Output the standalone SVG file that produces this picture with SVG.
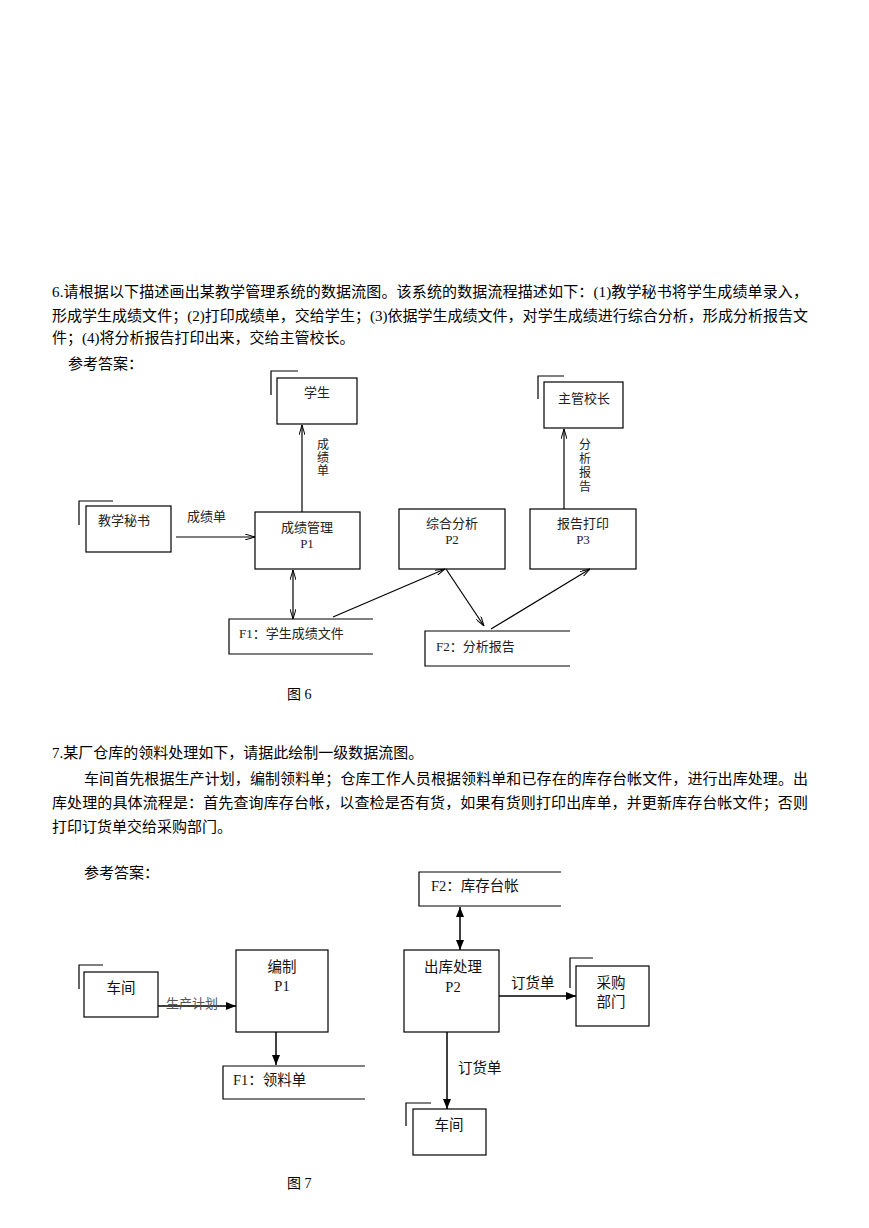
<svg xmlns="http://www.w3.org/2000/svg" width="869" height="1228" viewBox="0 0 869 1228">
<style>
text{font-family:"Liberation Serif","Noto Sans CJK SC",serif;fill:#000}
.body{font-size:15px}
.d6{font-size:13px;fill:#222}
.v6{font-size:12px;fill:#222}
.d7{font-size:14.5px;fill:#111}
.box{fill:#fff;stroke:#000;stroke-width:1.2}
.mark{fill:none;stroke:#000;stroke-width:1.2}
.store{fill:none;stroke:#000;stroke-width:1.2}
.c6{fill:none;stroke:#000;stroke-width:1.2;marker-end:url(#open)}
.c7{fill:none;stroke:#000;stroke-width:1.5;marker-end:url(#fill)}
</style>
<defs>
<marker id="open" viewBox="0 0 10 6" refX="10" refY="3" markerWidth="10" markerHeight="6" markerUnits="userSpaceOnUse" orient="auto-start-reverse">
<path d="M0,0 L10,3 L0,6" fill="none" stroke="#000" stroke-width="1"/>
</marker>
<marker id="fill" viewBox="0 0 10 8" refX="10" refY="4" markerWidth="10" markerHeight="8" markerUnits="userSpaceOnUse" orient="auto-start-reverse">
<path d="M0,0 L10,4 L0,8 z" fill="#000"/>
</marker>
</defs>
<rect width="869" height="1228" fill="#fff"/>

<g id="text6">
<text class="body" x="52" y="297" textLength="756" lengthAdjust="spacing">6.请根据以下描述画出某教学管理系统的数据流图。该系统的数据流程描述如下：(1)教学秘书将学生成绩单录入，</text>
<text class="body" x="52" y="321" textLength="756" lengthAdjust="spacing">形成学生成绩文件；(2)打印成绩单，交给学生；(3)依据学生成绩文件，对学生成绩进行综合分析，形成分析报告文</text>
<text class="body" x="52" y="343">件；(4)将分析报告打印出来，交给主管校长。</text>
<text class="body" x="68" y="369">参考答案：</text>
</g>

<g id="n6-student">
<path class="mark" d="M271,395 V371 H298"/>
<rect class="box" x="277" y="378" width="80" height="46"/>
<text class="d6" x="317" y="397" text-anchor="middle">学生</text>
</g>
<g id="n6-secretary">
<path class="mark" d="M79,525 V501 H113"/>
<rect class="box" x="86" y="506" width="85" height="46"/>
<text class="d6" x="98" y="525">教学秘书</text>
</g>
<g id="n6-principal">
<path class="mark" d="M538,399 V376 H564"/>
<rect class="box" x="544" y="382" width="79" height="46"/>
<text class="d6" x="584" y="403" text-anchor="middle">主管校长</text>
</g>
<g id="n6-p1">
<rect class="box" x="255" y="512" width="105" height="57"/>
<text class="d6" x="307" y="532" text-anchor="middle">成绩管理</text>
<text class="d6" x="307" y="548" text-anchor="middle">P1</text>
</g>
<g id="n6-p2">
<rect class="box" x="399" y="509" width="106" height="60"/>
<text class="d6" x="452" y="528" text-anchor="middle">综合分析</text>
<text class="d6" x="452" y="544" text-anchor="middle">P2</text>
</g>
<g id="n6-p3">
<rect class="box" x="530" y="509" width="106" height="60"/>
<text class="d6" x="583" y="528" text-anchor="middle">报告打印</text>
<text class="d6" x="583" y="544" text-anchor="middle">P3</text>
</g>
<g id="n6-f1">
<path class="store" d="M373,619 H229 V654 H373"/>
<text class="d6" x="239" y="638">F1：学生成绩文件</text>
</g>
<g id="n6-f2">
<path class="store" d="M570,631 H425 V666 H570"/>
<text class="d6" x="436" y="651">F2：分析报告</text>
</g>

<g id="connectors6">
<line class="c6" x1="302" y1="512" x2="302" y2="425"/>
<line class="c6" x1="176" y1="537" x2="255" y2="537"/>
<line class="c6" x1="564" y1="509" x2="564" y2="429"/>
<line class="c6" style="marker-start:url(#open)" x1="293" y1="570" x2="293" y2="619"/>
<line class="c6" x1="333" y1="617" x2="445" y2="569"/>
<line class="c6" x1="446" y1="569" x2="484" y2="626"/>
<line class="c6" x1="491" y1="629" x2="590" y2="569"/>
<text class="d6" x="187" y="521">成绩单</text>
<text class="v6" x="323" y="449" text-anchor="middle">成</text>
<text class="v6" x="323" y="462" text-anchor="middle">绩</text>
<text class="v6" x="323" y="475" text-anchor="middle">单</text>
<text class="v6" x="585" y="449" text-anchor="middle">分</text>
<text class="v6" x="585" y="463" text-anchor="middle">析</text>
<text class="v6" x="585" y="477" text-anchor="middle">报</text>
<text class="v6" x="585" y="491" text-anchor="middle">告</text>
</g>
<text class="body" x="287" y="699" style="font-size:14px">图 6</text>

<g id="text7">
<text class="body" x="52" y="758">7.某厂仓库的领料处理如下，请据此绘制一级数据流图。</text>
<text class="body" x="84" y="784" textLength="724" lengthAdjust="spacing">车间首先根据生产计划，编制领料单；仓库工作人员根据领料单和已存在的库存台帐文件，进行出库处理。出</text>
<text class="body" x="52" y="808" textLength="756" lengthAdjust="spacing">库处理的具体流程是：首先查询库存台帐，以查检是否有货，如果有货则打印出库单，并更新库存台帐文件；否则</text>
<text class="body" x="52" y="832">打印订货单交给采购部门。</text>
<text class="body" x="84" y="878">参考答案：</text>
</g>

<g id="n7-workshop">
<path class="mark" d="M79,989 V965 H103"/>
<rect class="box" x="84" y="972" width="74" height="45"/>
<text class="d7" x="121" y="993" text-anchor="middle">车间</text>
</g>
<g id="n7-p1">
<rect class="box" x="236" y="950" width="92" height="82"/>
<text class="d7" x="282" y="972" text-anchor="middle">编制</text>
<text class="d7" x="282" y="991" text-anchor="middle">P1</text>
</g>
<g id="n7-f1">
<path class="store" d="M365,1066 H223 V1099 H365"/>
<text class="d7" x="233" y="1085">F1：领料单</text>
</g>
<g id="n7-f2">
<path class="store" d="M561,872 H419 V906 H561"/>
<text class="d7" x="431" y="891">F2：库存台帐</text>
</g>
<g id="n7-p2">
<rect class="box" x="404" y="950" width="95" height="82"/>
<text class="d7" x="453" y="972" text-anchor="middle">出库处理</text>
<text class="d7" x="453" y="992" text-anchor="middle">P2</text>
</g>
<g id="n7-purchase">
<path class="mark" d="M570,988 V958 H593"/>
<rect class="box" x="576" y="966" width="73" height="60"/>
<text class="d7" x="611" y="988" text-anchor="middle">采购</text>
<text class="d7" x="611" y="1007" text-anchor="middle">部门</text>
</g>
<g id="n7-workshop2">
<path class="mark" d="M406,1126 V1103 H431"/>
<rect class="box" x="413" y="1109" width="73" height="46"/>
<text class="d7" x="449" y="1130" text-anchor="middle">车间</text>
</g>

<g id="connectors7">
<line class="c7" x1="158" y1="1006" x2="236" y2="1006"/>
<line class="c7" x1="276" y1="1032" x2="276" y2="1065"/>
<line class="c7" style="marker-start:url(#fill)" x1="460" y1="907" x2="460" y2="950"/>
<line class="c7" x1="499" y1="996" x2="576" y2="996"/>
<line class="c7" x1="447" y1="1032" x2="447" y2="1109"/>
<text x="166" y="1008" style="font-size:13px;fill:#555">生产计划</text>
<text class="d7" x="511" y="988">订货单</text>
<text class="d7" x="458" y="1073">订货单</text>
</g>
<text class="body" x="287" y="1188" style="font-size:14px">图 7</text>
</svg>
